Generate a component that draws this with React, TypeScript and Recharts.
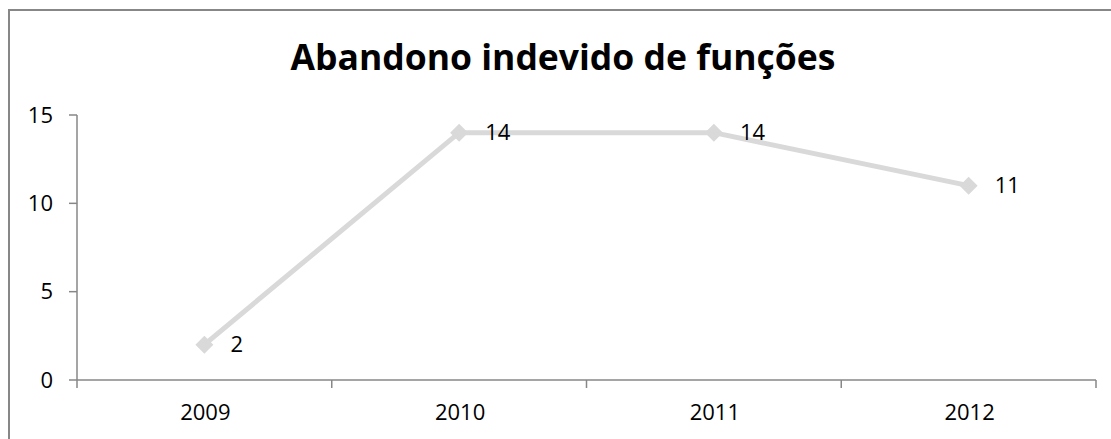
import React from "react";
import { LineChart, Line, XAxis, YAxis, LabelList } from "recharts";

const title = "Abandono indevido de funções";
const years = ["2009", "2010", "2011", "2012"];
const values = [2, 14, 14, 11];
const yTicks = [0, 5, 10, 15];

const data = years.map((y, i) => ({ pos: i + 0.5, year: y, value: values[i] }));
const xTicks: number[] = [];
for (let i = 0; i <= years.length * 2; i++) xTicks.push(i / 2);

const FONT = "'Open Sans', 'DejaVu Sans', sans-serif";
const AXIS = "#878787";

const Diamond = (props: any) => {
  const { cx, cy } = props;
  if (cx == null || cy == null) return null;
  const r = 9;
  return (
    <polygon
      points={`${cx},${cy - r} ${cx + r},${cy} ${cx},${cy + r} ${cx - r},${cy}`}
      fill="#d9d9d9"
      stroke="none"
    />
  );
};

const XTick = (props: any) => {
  const { x, y, payload } = props;
  const v = payload.value as number;
  if (Number.isInteger(v)) {
    return <line x1={x} x2={x} y1={y} y2={y + 8} stroke={AXIS} strokeWidth={1.5} />;
  }
  const label = years[Math.round(v - 0.5)];
  return (
    <text
      x={x + 1}
      y={y + 40}
      textAnchor="middle"
      fill="#000"
      fontSize={22}
      fontFamily={FONT}
    >
      {label}
    </text>
  );
};

export default function App() {
  return (
    <div
      style={{
        position: "fixed",
        left: 0,
        top: 0,
        width: 1111,
        height: 439,
        overflow: "hidden",
        background: "#fff",
      }}
    >
      <div
        style={{
          position: "absolute",
          left: 8,
          top: 9,
          width: 1120,
          height: 440,
          borderLeft: "2px solid #878787",
          borderTop: "2px solid #878787",
          boxSizing: "border-box",
        }}
      >
        <div
          style={{
            position: "absolute",
            left: 0,
            width: 1106,
            top: 22,
            textAlign: "center",
            fontFamily: FONT,
            fontWeight: 700,
            fontSize: 35.5,
            color: "#000",
            lineHeight: "46px",
          }}
        >
          {title}
        </div>
        <LineChart
          width={1103}
          height={428}
          data={data}
          margin={{ top: 104, right: 17, bottom: 9, left: 0 }}
        >
          <YAxis
            domain={[0, 15]}
            ticks={yTicks}
            width={67}
            tickSize={8}
            tickMargin={16}
            axisLine={{ stroke: AXIS, strokeWidth: 1.5 }}
            tickLine={{ stroke: AXIS, strokeWidth: 1.5 }}
            tick={{ fill: "#000", fontSize: 22, fontFamily: FONT }}
          />
          <XAxis
            dataKey="pos"
            type="number"
            domain={[0, years.length]}
            ticks={xTicks}
            interval={0}
            height={50}
            tickSize={0}
            tickMargin={0}
            tick={<XTick />}
            axisLine={{ stroke: AXIS, strokeWidth: 1.5 }}
            tickLine={false}
          />
          <Line
            dataKey="value"
            stroke="#d9d9d9"
            strokeWidth={5}
            dot={<Diamond />}
            activeDot={false}
            isAnimationActive={false}
          >
            <LabelList
              dataKey="value"
              position="right"
              offset={26}
              fill="#000"
              fontSize={22}
              fontFamily={FONT}
            />
          </Line>
        </LineChart>
      </div>
    </div>
  );
}
